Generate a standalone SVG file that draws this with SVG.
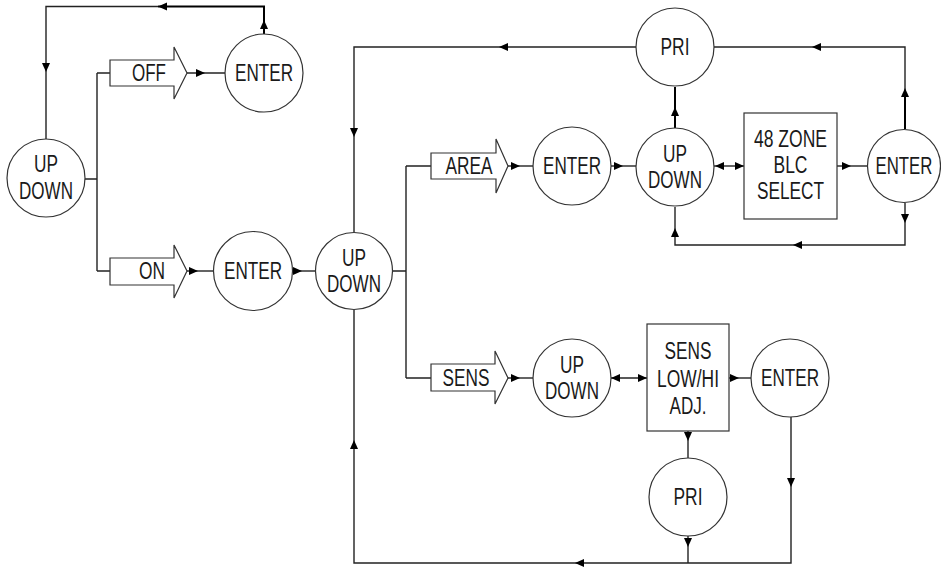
<svg xmlns="http://www.w3.org/2000/svg" xmlns:xlink="http://www.w3.org/1999/xlink" width="941" height="567" viewBox="0 0 941 567">
<style>
.n{fill:#fff;stroke:#333;stroke-width:1.2}
.c{fill:none;stroke:#222;stroke-width:1.4}
.b{fill:none;stroke:#000;stroke-width:2}
text{font-family:"Liberation Sans",Arial,sans-serif;font-size:23px;fill:#1a1a1a;text-anchor:middle}
</style>
<defs>
<path id="ar" d="M0,0 L-9,-4 L-9,4 Z" fill="#000"/>
</defs>
<rect width="941" height="567" fill="#fff"/>
<g id="connectors">
<path class="c" d="M46,139 V6.5 H158"/>
<path class="b" d="M158,6.5 H264 V34"/>
<path class="c" d="M85,179 H97 M97,73 V271 M97,73 H110 M97,271 H110"/>
<path class="c" d="M187,73 H226"/>
<path class="c" d="M187,271 H213"/>
<path class="c" d="M293,271 H316"/>
<path class="c" d="M392,271 H406 M406,166 V378 M406,166 H431 M406,378 H431"/>
<path class="c" d="M636,47 H354 V232"/>
<path class="c" d="M791,417 V563 H354 V310"/>
<path class="c" d="M508,166 H534"/>
<path class="c" d="M611,166 H636"/>
<path class="b" d="M675,128 V87"/>
<path class="c" d="M714,166 H744"/>
<path class="c" d="M837,166 H867"/>
<path class="b" d="M905,129 V90"/>
<path class="c" d="M905,90 V47 H714"/>
<path class="c" d="M905,203 V245 H675 V207"/>
<path class="c" d="M508,378 H534"/>
<path class="c" d="M610,378 H647"/>
<path class="c" d="M729,378 H752"/>
<path class="c" d="M688,431 V458"/>
<path class="c" d="M688,536 V563"/>
<use xlink:href="#ar" transform="translate(46,72) rotate(90)"/>
<use xlink:href="#ar" transform="translate(158,6.5) rotate(180)"/>
<use xlink:href="#ar" transform="translate(264,20) rotate(-90)"/>
<use xlink:href="#ar" transform="translate(205,73)"/>
<use xlink:href="#ar" transform="translate(198,271)"/>
<use xlink:href="#ar" transform="translate(302,271)"/>
<use xlink:href="#ar" transform="translate(499,47) rotate(180)"/>
<use xlink:href="#ar" transform="translate(354,137) rotate(90)"/>
<use xlink:href="#ar" transform="translate(791,487) rotate(90)"/>
<use xlink:href="#ar" transform="translate(575,563) rotate(180)"/>
<use xlink:href="#ar" transform="translate(354,440) rotate(-90)"/>
<use xlink:href="#ar" transform="translate(520,166)"/>
<use xlink:href="#ar" transform="translate(623,166)"/>
<use xlink:href="#ar" transform="translate(675,107) rotate(-90)"/>
<use xlink:href="#ar" transform="translate(715,166) rotate(180)"/>
<use xlink:href="#ar" transform="translate(744,166)"/>
<use xlink:href="#ar" transform="translate(851,166)"/>
<use xlink:href="#ar" transform="translate(905,88) rotate(-90)"/>
<use xlink:href="#ar" transform="translate(812,47) rotate(180)"/>
<use xlink:href="#ar" transform="translate(905,223) rotate(90)"/>
<use xlink:href="#ar" transform="translate(793,245) rotate(180)"/>
<use xlink:href="#ar" transform="translate(675,228) rotate(-90)"/>
<use xlink:href="#ar" transform="translate(520,378)"/>
<use xlink:href="#ar" transform="translate(611,378) rotate(180)"/>
<use xlink:href="#ar" transform="translate(647,378)"/>
<use xlink:href="#ar" transform="translate(739,378)"/>
<use xlink:href="#ar" transform="translate(688,441) rotate(90)"/>
<use xlink:href="#ar" transform="translate(688,547) rotate(90)"/>
</g>
<g id="updown-main-left">
<circle class="n" cx="46" cy="178" r="39"/>
<text x="46" y="172" textLength="24" lengthAdjust="spacingAndGlyphs">UP</text>
<text x="46" y="199" textLength="54" lengthAdjust="spacingAndGlyphs">DOWN</text>
</g>
<g id="off">
<polygon class="n" points="110,60 174,60 174,47 187,73 174,99 174,86 110,86"/>
<text x="149" y="81" textLength="34" lengthAdjust="spacingAndGlyphs">OFF</text>
</g>
<g id="enter-off">
<circle class="n" cx="264" cy="73" r="39"/>
<text x="264" y="81" textLength="58" lengthAdjust="spacingAndGlyphs">ENTER</text>
</g>
<g id="on">
<polygon class="n" points="110,258 174,258 174,245 187,271 174,298 174,285 110,285"/>
<text x="152" y="279" textLength="26" lengthAdjust="spacingAndGlyphs">ON</text>
</g>
<g id="enter-on">
<circle class="n" cx="253" cy="271" r="39.5"/>
<text x="253" y="279" textLength="58" lengthAdjust="spacingAndGlyphs">ENTER</text>
</g>
<g id="updown-mid">
<circle class="n" cx="354" cy="271" r="38.5"/>
<text x="354" y="266" textLength="24" lengthAdjust="spacingAndGlyphs">UP</text>
<text x="354" y="292" textLength="54" lengthAdjust="spacingAndGlyphs">DOWN</text>
</g>
<g id="area">
<polygon class="n" points="431,153 496,153 496,139 508,166 496,193 496,179 431,179"/>
<text x="469" y="174" textLength="47" lengthAdjust="spacingAndGlyphs">AREA</text>
</g>
<g id="enter-area">
<circle class="n" cx="572" cy="166" r="39"/>
<text x="572" y="174" textLength="58" lengthAdjust="spacingAndGlyphs">ENTER</text>
</g>
<g id="pri-top">
<circle class="n" cx="675" cy="47" r="39"/>
<text x="675" y="55" textLength="29" lengthAdjust="spacingAndGlyphs">PRI</text>
</g>
<g id="updown-area">
<circle class="n" cx="675" cy="167" r="39"/>
<text x="675" y="162" textLength="24" lengthAdjust="spacingAndGlyphs">UP</text>
<text x="675" y="188" textLength="54" lengthAdjust="spacingAndGlyphs">DOWN</text>
</g>
<g id="blc-select">
<rect class="n" x="744" y="113" width="93" height="106"/>
<text x="790.5" y="147" textLength="73" lengthAdjust="spacingAndGlyphs">48 ZONE</text>
<text x="790.5" y="173" textLength="34" lengthAdjust="spacingAndGlyphs">BLC</text>
<text x="790.5" y="199" textLength="67" lengthAdjust="spacingAndGlyphs">SELECT</text>
</g>
<g id="enter-blc">
<circle class="n" cx="904" cy="166" r="36.5"/>
<text x="0" y="0" transform="translate(904 174) scale(0.73 1)">ENTER</text>
</g>
<g id="sens">
<polygon class="n" points="431,364 495,364 495,351 508,378 495,404 495,391 431,391"/>
<text x="466" y="386" textLength="47" lengthAdjust="spacingAndGlyphs">SENS</text>
</g>
<g id="updown-sens">
<circle class="n" cx="572" cy="378" r="39"/>
<text x="572" y="373" textLength="24" lengthAdjust="spacingAndGlyphs">UP</text>
<text x="572" y="399" textLength="54" lengthAdjust="spacingAndGlyphs">DOWN</text>
</g>
<g id="sens-adj">
<rect class="n" x="647" y="324" width="82" height="107"/>
<text x="688" y="359" textLength="47" lengthAdjust="spacingAndGlyphs">SENS</text>
<text x="688" y="387" textLength="62" lengthAdjust="spacingAndGlyphs">LOW/HI</text>
<text x="688" y="414" textLength="37" lengthAdjust="spacingAndGlyphs">ADJ.</text>
</g>
<g id="enter-sens">
<circle class="n" cx="790" cy="378" r="39"/>
<text x="790" y="386" textLength="58" lengthAdjust="spacingAndGlyphs">ENTER</text>
</g>
<g id="pri-bottom">
<circle class="n" cx="688" cy="497" r="39"/>
<text x="688" y="505" textLength="29" lengthAdjust="spacingAndGlyphs">PRI</text>
</g>
</svg>
